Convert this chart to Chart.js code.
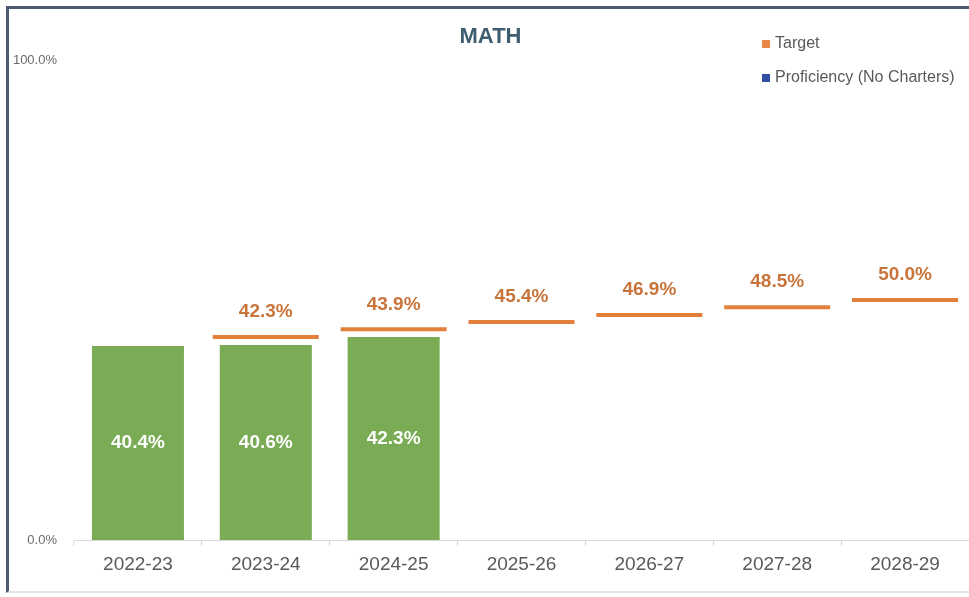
<!DOCTYPE html>
<html>
<head>
<meta charset="utf-8">
<script src="https://cdn.jsdelivr.net/npm/chart.js@4"></script>
<style>
  html, body { margin: 0; padding: 0; background: #fff; }
  #frame {
    position: absolute; left: 6px; top: 6px; width: 960px; height: 582px;
    border-left: 3px solid #4b5a70; border-top: 3px solid #4b5a70;
    border-bottom: 2px solid #e4e4e4;
  }
  canvas { display: block; }
</style>
</head>
<body>
<div id="frame"><canvas id="myChart" width="960" height="582"></canvas></div>
<script>
const years = ['2022-23', '2023-24', '2024-25', '2025-26', '2026-27', '2027-28', '2028-29'];
const proficiency = [0.404, 0.406, 0.423, null, null, null, null];
const target = [null, 0.423, 0.439, 0.454, 0.469, 0.485, 0.500];
const yTicks = [0, 1];

const pct = v => (v * 100).toFixed(1) + '%';

const valueLabels = {
    id: 'valueLabels',
    afterDatasetsDraw(chart) {
        const ctx = chart.ctx;
        ctx.save();
        ctx.font = 'bold 19px "Liberation Sans", Arial, sans-serif';
        ctx.textAlign = 'center';
        ctx.textBaseline = 'middle';
        chart.data.datasets.forEach((ds, i) => {
            const meta = chart.getDatasetMeta(i);
            meta.data.forEach((el, j) => {
                const v = ds.data[j];
                if (v === null) return;
                if (ds.type === 'bar') {
                    ctx.fillStyle = '#ffffff';
                    ctx.fillText(pct(v), el.x, (el.y + el.base) / 2);
                } else {
                    ctx.fillStyle = '#c8743a';
                    ctx.fillText(pct(v), el.x, el.y - 25);
                }
            });
        });
        ctx.restore();
    }
};

const sideLegend = {
    id: 'sideLegend',
    afterDraw(chart) {
        const ctx = chart.ctx;
        ctx.save();
        ctx.font = '16px "Liberation Sans", Arial, sans-serif';
        ctx.textBaseline = 'middle';
        chart.data.datasets.forEach((ds, i) => {
            const y = 35 + i * 34;
            ctx.fillStyle = ds.legendColor;
            ctx.fillRect(753, y - 4, 8, 8);
            ctx.fillStyle = '#595959';
            ctx.fillText(ds.label, 766, y);
        });
        ctx.restore();
    }
};

const ctx = document.getElementById('myChart');
new Chart(ctx, {
    data: {
        labels: years,
        datasets: [{
            type: 'line',
            label: 'Target',
            data: target,
            legendColor: '#e8884a',
            borderColor: '#e27f3b',
            backgroundColor: '#e27f3b',
            showLine: false,
            pointStyle: 'line',
            pointRadius: 53,
            pointHoverRadius: 53,
            borderWidth: 4,
            pointBorderWidth: 4,
            order: 0
        }, {
            type: 'bar',
            label: 'Proficiency (No Charters)',
            data: proficiency,
            legendColor: '#2f4f9f',
            backgroundColor: '#7aab55',
            categoryPercentage: 1,
            barPercentage: 0.72,
            order: 1
        }]
    },
    options: {
        responsive: false,
        animation: false,
        layout: { autoPadding: false, padding: { left: 3, right: 0, top: 0, bottom: 7 } },
        plugins: {
            legend: { display: false },
            tooltip: { enabled: false },
            title: {
                display: true,
                text: 'MATH',
                color: '#3f5d70',
                font: { family: '"Liberation Sans", Arial, sans-serif', size: 22, weight: 'bold' },
                padding: { top: 14.8, bottom: 9.8 }
            }
        },
        scales: {
            x: {
                offset: true,
                grid: {
                    display: true,
                    drawOnChartArea: false,
                    drawTicks: true,
                    tickLength: 6,
                    color: '#d9d9d9',
                    offset: true
                },
                border: { color: '#d9d9d9' },
                ticks: {
                    color: '#595959',
                    padding: 7.6,
                    font: { family: '"Liberation Sans", Arial, sans-serif', size: 19 }
                }
            },
            y: {
                min: 0,
                max: 1,
                grid: { display: false, drawTicks: false },
                border: { display: false },
                afterFit(scale) { scale.width = 62; },
                afterBuildTicks(scale) { scale.ticks = yTicks.map(v => ({ value: v })); },
                ticks: {
                    crossAlign: 'near',
                    padding: 17,
                    color: '#6a6a6a',
                    font: { family: '"Liberation Sans", Arial, sans-serif', size: 13 },
                    callback: v => pct(v)
                }
            }
        }
    },
    plugins: [valueLabels, sideLegend]
});
</script>
</body>
</html>
